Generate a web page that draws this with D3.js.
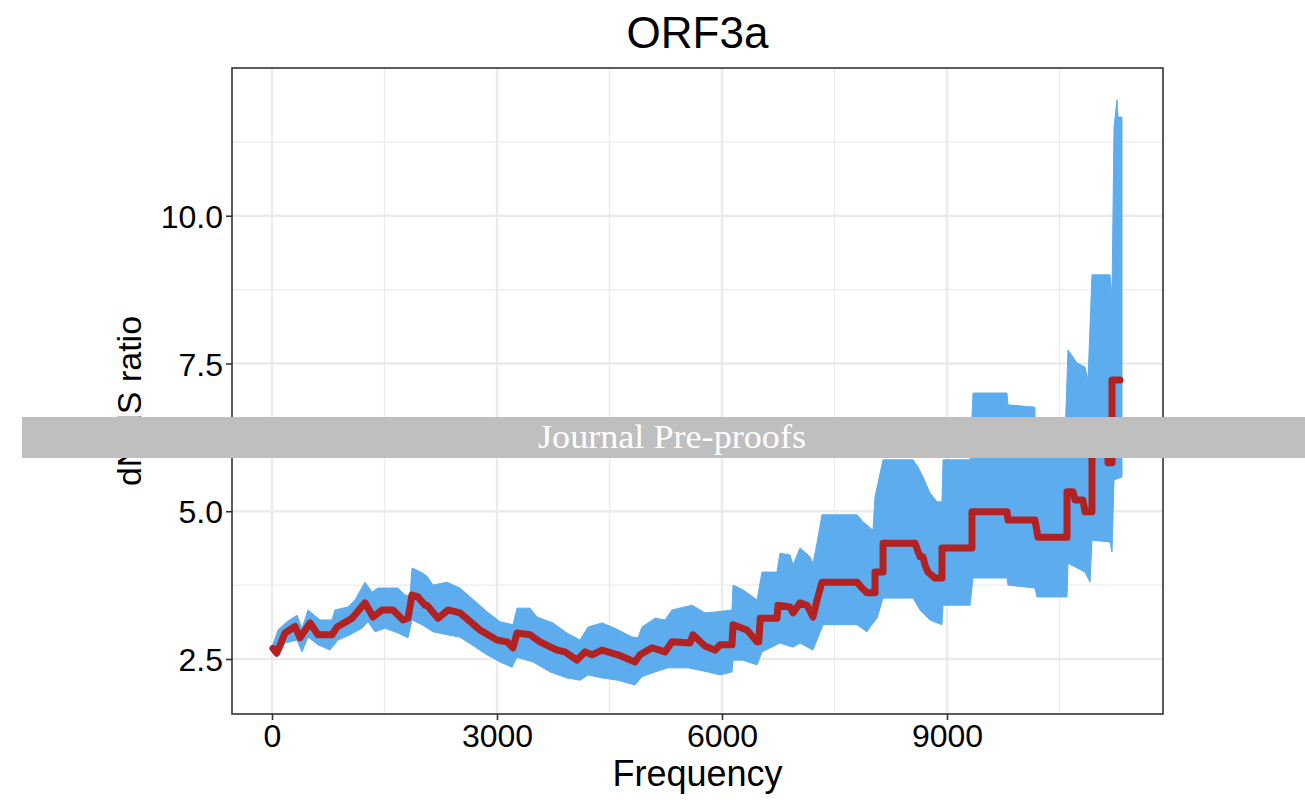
<!DOCTYPE html>
<html><head><meta charset="utf-8">
<script src="https://cdn.jsdelivr.net/npm/d3@7/dist/d3.min.js"></script>
<style>body{margin:0;background:#fff}svg{display:block}</style>
</head><body>
<svg id="chart" width="1305" height="810"></svg>
<script>
const title = "ORF3a";
const xTitle = "Frequency";
const yTitle = "dN/dS ratio";
const xTicks = [0, 3000, 6000, 9000];
const xMinor = [1500, 4500, 7500, 10500];
const yTicks = [2.5, 5.0, 7.5, 10.0];
const yMinor = [3.75, 6.25, 8.75, 11.25];

// mean dN/dS (red line): [frequency, ratio]
const meanLine = [[13,2.68],[63,2.60],[173,2.94],[307,3.05],[373,2.86],[507,3.11],[613,2.91],[800,2.91],[867,3.04],[1067,3.19],[1240,3.45],[1347,3.21],[1467,3.33],[1613,3.33],[1747,3.16],[1813,3.19],[1867,3.58],[1947,3.55],[2040,3.41],[2067,3.41],[2213,3.19],[2347,3.33],[2507,3.28],[2773,2.99],[3000,2.82],[3133,2.79],[3213,2.69],[3267,2.94],[3440,2.91],[3573,2.79],[3800,2.65],[3907,2.62],[4067,2.48],[4173,2.62],[4267,2.57],[4400,2.65],[4613,2.57],[4840,2.45],[4907,2.57],[5067,2.69],[5240,2.62],[5333,2.79],[5573,2.77],[5613,2.91],[5773,2.72],[5907,2.65],[5973,2.74],[6133,2.74],[6147,3.08],[6333,2.99],[6467,2.79],[6490,2.79],[6510,3.19],[6733,3.19],[6747,3.41],[6907,3.38],[6947,3.28],[7040,3.45],[7133,3.41],[7213,3.21],[7267,3.50],[7333,3.80],[7800,3.80],[7867,3.70],[7933,3.62],[8040,3.62],[8040,3.97],[8147,3.97],[8147,4.46],[8573,4.46],[8640,4.23],[8680,4.23],[8707,4.09],[8747,3.97],[8840,3.87],[8933,3.87],[8933,4.38],[9333,4.38],[9333,4.99],[9800,4.99],[9813,4.85],[10173,4.85],[10213,4.56],[10600,4.56],[10600,5.33],[10680,5.33],[10707,5.19],[10813,5.19],[10840,4.99],[10933,4.99],[10933,6.25],[11147,6.25],[11147,5.82],[11200,5.82],[11200,7.22],[11307,7.22]];

// upper bound of interval (blue ribbon top)
const upperBand = [[13,2.75],[80,2.99],[200,3.13],[333,3.24],[400,3.02],[480,3.33],[640,3.16],[800,3.16],[840,3.33],[1013,3.38],[1107,3.50],[1240,3.80],[1333,3.63],[1413,3.70],[1680,3.70],[1773,3.58],[1840,3.58],[1867,4.04],[2000,3.96],[2067,3.90],[2147,3.75],[2333,3.80],[2507,3.70],[2867,3.30],[3040,3.13],[3213,3.08],[3267,3.36],[3440,3.36],[3533,3.21],[3747,3.11],[3933,2.94],[4107,2.82],[4213,3.04],[4400,3.11],[4573,3.02],[4800,2.87],[4880,2.86],[4933,3.04],[5107,3.19],[5240,3.16],[5333,3.33],[5600,3.41],[5773,3.28],[5947,3.30],[6133,3.33],[6147,3.75],[6280,3.67],[6467,3.50],[6533,3.97],[6733,3.97],[6773,4.29],[6907,4.26],[6947,4.09],[7040,4.38],[7173,4.23],[7213,4.12],[7267,4.46],[7333,4.94],[7800,4.94],[7880,4.82],[8013,4.68],[8040,5.24],[8147,5.87],[8547,5.87],[8613,5.75],[8680,5.58],[8773,5.31],[8867,5.16],[8933,5.16],[8947,5.87],[9307,5.87],[9347,7.00],[9800,7.00],[9813,6.80],[10173,6.76],[10173,6.21],[10573,6.21],[10613,7.73],[10733,7.51],[10840,7.44],[10880,7.22],[10933,9.00],[11173,9.00],[11200,8.63],[11227,11.50],[11267,11.96],[11280,11.67],[11333,11.67]];

// lower bound of interval (blue ribbon bottom)
const lowerBand = [[13,2.60],[67,2.53],[173,2.77],[333,2.82],[400,2.62],[480,2.87],[613,2.74],[773,2.65],[880,2.82],[1040,2.91],[1200,3.02],[1280,3.13],[1373,2.96],[1507,3.02],[1680,2.94],[1813,2.86],[1867,3.16],[2000,3.08],[2147,2.96],[2333,2.91],[2507,2.87],[2867,2.57],[3040,2.45],[3200,2.36],[3267,2.53],[3480,2.45],[3707,2.28],[3933,2.18],[4107,2.14],[4213,2.23],[4400,2.18],[4613,2.14],[4840,2.06],[4933,2.20],[5107,2.28],[5280,2.35],[5547,2.35],[5813,2.28],[5973,2.23],[6133,2.28],[6147,2.48],[6280,2.48],[6467,2.40],[6533,2.62],[6773,2.77],[6947,2.70],[7040,2.77],[7213,2.65],[7267,2.82],[7347,3.08],[7800,3.08],[7933,2.96],[7973,3.04],[8067,3.19],[8147,3.53],[8547,3.53],[8640,3.33],[8773,3.16],[8933,3.08],[8947,3.41],[9307,3.41],[9347,3.87],[9800,3.87],[9813,3.75],[10173,3.70],[10200,3.55],[10600,3.55],[10613,4.12],[10840,3.97],[10907,3.80],[10933,4.51],[11173,4.48],[11200,4.31],[11227,5.53],[11333,5.58]];

const svg = d3.select("#chart");
const P = {l:232, r:1163, t:68, b:714};
const x = d3.scaleLinear().domain([-533.33, 11880]).range([P.l, P.r]);
const y = d3.scaleLinear().domain([1.569, 12.50]).range([P.b, P.t]);

svg.append("defs").append("clipPath").attr("id","clip")
  .append("rect").attr("x",P.l).attr("y",P.t).attr("width",P.r-P.l).attr("height",P.b-P.t);

const grid = svg.append("g");
grid.selectAll(".ymin").data(yMinor).join("line")
  .attr("x1",P.l).attr("x2",P.r).attr("y1",d=>y(d)).attr("y2",d=>y(d))
  .attr("stroke","#ebebeb").attr("stroke-width",1.2);
grid.selectAll(".xmin").data(xMinor).join("line")
  .attr("y1",P.t).attr("y2",P.b).attr("x1",d=>x(d)).attr("x2",d=>x(d))
  .attr("stroke","#ebebeb").attr("stroke-width",1.2);
grid.selectAll(".ymaj").data(yTicks).join("line")
  .attr("x1",P.l).attr("x2",P.r).attr("y1",d=>y(d)).attr("y2",d=>y(d))
  .attr("stroke","#ebebeb").attr("stroke-width",2.4);
grid.selectAll(".xmaj").data(xTicks).join("line")
  .attr("y1",P.t).attr("y2",P.b).attr("x1",d=>x(d)).attr("x2",d=>x(d))
  .attr("stroke","#ebebeb").attr("stroke-width",2.4);

const topPath = d3.line().x(d=>x(d[0])).y(d=>y(d[1]))(upperBand);
const botPath = d3.line().x(d=>x(d[0])).y(d=>y(d[1]))(lowerBand.slice().reverse());
const plot = svg.append("g").attr("clip-path","url(#clip)");
plot.append("path")
  .attr("d", topPath + "L" + botPath.slice(1) + "Z")
  .attr("fill","#5daced").attr("stroke","#5daced").attr("stroke-width",1);

plot.append("path").datum(meanLine)
  .attr("d", d3.line().x(d=>x(d[0])).y(d=>y(d[1])))
  .attr("fill","none").attr("stroke","#b22222").attr("stroke-width",7)
  .attr("stroke-linejoin","round").attr("stroke-linecap","round");

svg.append("rect").attr("x",P.l).attr("y",P.t).attr("width",P.r-P.l).attr("height",P.b-P.t)
  .attr("fill","none").attr("stroke","#333").attr("stroke-width",1.6);

const font = "'Liberation Sans', Arial, Helvetica, sans-serif";
const xAxis = svg.append("g").attr("transform",`translate(0,${P.b})`)
  .call(d3.axisBottom(x).tickValues(xTicks).tickSize(6).tickPadding(4).tickFormat(d3.format("d")));
const yAxis = svg.append("g").attr("transform",`translate(${P.l},0)`)
  .call(d3.axisLeft(y).tickValues(yTicks).tickSize(6).tickPadding(3).tickFormat(d3.format(".1f")));
[xAxis,yAxis].forEach(a=>{
  a.select(".domain").remove();
  a.selectAll(".tick line").attr("stroke","#333").attr("stroke-width",1.6);
  a.selectAll(".tick text").attr("fill","#000").style("font-family",font).style("font-size","32px");
});
yAxis.selectAll(".tick text").attr("dy","0.36em");

svg.append("text").attr("x",(P.l+P.r)/2).attr("y",48).attr("text-anchor","middle")
  .style("font-family",font).style("font-size","44px").text(title);
svg.append("text").attr("x",(P.l+P.r)/2).attr("y",786).attr("text-anchor","middle")
  .style("font-family",font).style("font-size","36px").text(xTitle);
svg.append("text").attr("transform","translate(141,401) rotate(-90)").attr("text-anchor","middle")
  .style("font-family",font).style("font-size","34px").text(yTitle);

// watermark banner
svg.append("rect").attr("x",22).attr("y",417).attr("width",1283).attr("height",41).attr("fill","#bfbfbf");
svg.append("text").attr("x",672).attr("y",448).attr("text-anchor","middle")
  .attr("fill","#fff").style("font-family","'Liberation Serif','Times New Roman',serif")
  .style("font-size","34px").attr("textLength",268).attr("lengthAdjust","spacingAndGlyphs")
  .text("Journal Pre-proofs");
</script>
</body></html>
